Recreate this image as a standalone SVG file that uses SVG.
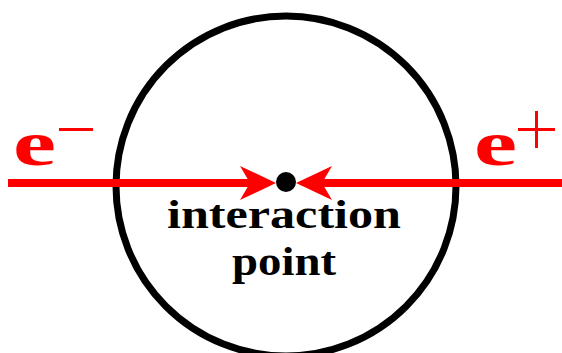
<svg xmlns="http://www.w3.org/2000/svg" width="562" height="353" viewBox="0 0 562 353">
<style>
.lbl{font-family:"Liberation Serif","DejaVu Serif",serif;font-weight:bold;}
.red{fill:#ff0000;}
</style>
<rect width="562" height="353" fill="#fff"/>
<g id="detector">
<circle cx="286" cy="186" r="170" fill="none" stroke="#000" stroke-width="7"/>
</g>
<g id="connectors">
<line x1="8" y1="183" x2="250" y2="183" stroke="#ff0000" stroke-width="8"/>
<line x1="562" y1="183" x2="322" y2="183" stroke="#ff0000" stroke-width="8"/>
<path d="M240,166 L276,183 L240,200 L250,183 Z" fill="#ff0000"/>
<path d="M332,166 L296,183 L332,200 L322,183 Z" fill="#ff0000"/>
</g>
<g id="ip">
<circle cx="286" cy="182" r="10" fill="#000"/>
<text class="lbl" x="167" y="228" font-size="39" textLength="234" lengthAdjust="spacingAndGlyphs">interaction</text>
<text class="lbl" x="232" y="275" font-size="39" textLength="104" lengthAdjust="spacingAndGlyphs">point</text>
</g>
<g id="electron">
<text class="lbl red" x="13" y="165" font-size="64" textLength="43" lengthAdjust="spacingAndGlyphs">e</text>
<rect x="59" y="128" width="34" height="3" class="red"/>
</g>
<g id="positron">
<text class="lbl red" x="474" y="165" font-size="64" textLength="43" lengthAdjust="spacingAndGlyphs">e</text>
<rect x="518" y="128" width="37" height="3" class="red"/>
<rect x="535" y="111" width="3" height="37" class="red"/>
</g>
</svg>
